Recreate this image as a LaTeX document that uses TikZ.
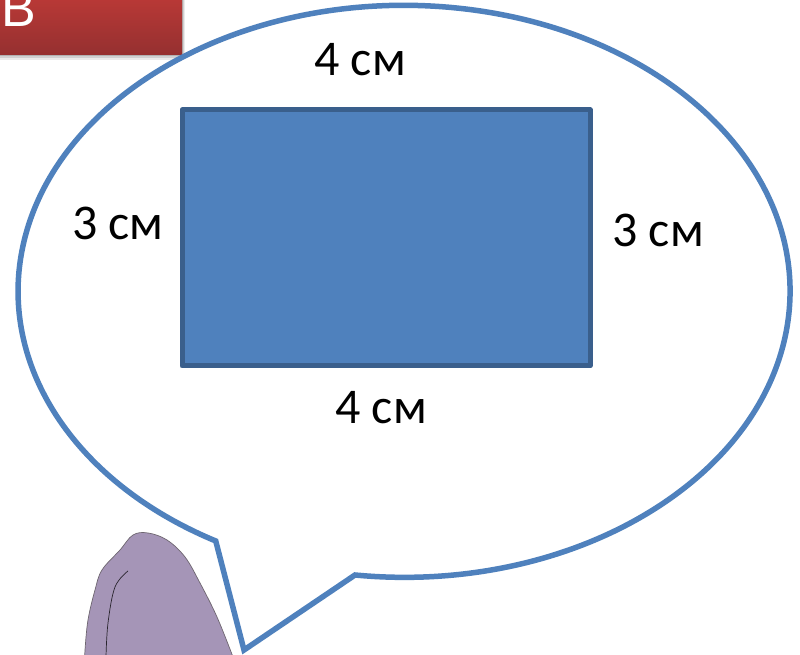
\documentclass[tikz,border=0pt]{standalone}
\usepackage{fontspec}
\setmainfont{Carlito}
\newfontfamily\arialfont{Liberation Sans}
\usetikzlibrary{shadows.blur}
\definecolor{bubbleblue}{HTML}{4F81BD}
\definecolor{rectedge}{HTML}{3A5F8C}
\definecolor{redtop}{HTML}{BE3A37}
\definecolor{redbot}{HTML}{953030}
\definecolor{robe}{HTML}{A595B7}
\definecolor{robeedge}{HTML}{6E6670}
\tikzset{
  x=1pt,y=1pt,
  measure/.style={font=\fontsize{50}{50}\selectfont,text=black,inner sep=0pt,anchor=center},
  bubble/.style={draw=bubbleblue,line width=5.5pt,fill=white,line join=miter},
  blockrect/.style={draw=rectedge,fill=bubbleblue,line width=5pt,line join=round,outer sep=0pt}
}
\begin{document}
\begin{tikzpicture}
\useasboundingbox (0,0) rectangle (800,655);
\clip (0,0) rectangle (800,655);
\fill[white] (0,0) rectangle (800,655);
% red tab shadow and tab
\fill[black!8] (0,595) rectangle (185,655);
\fill[black!18] (0,597) rectangle (184,655);
\fill[black!30] (0,599) rectangle (183,655);
\node[inner sep=0pt,outer sep=0pt,minimum width=182pt,minimum height=65pt,anchor=south west,
  top color=redtop,bottom color=redbot] (tab) at (0,600) {};
\node[font=\arialfont\fontsize{52}{52}\selectfont,text=white,inner sep=0pt,anchor=base west] (letter) at (1,628) {В};
% speech bubble
\draw[bubble] (244,5) -- (355,80)
  arc[start angle=262.7,end angle=600.8,x radius=386,y radius=286] -- cycle;
% rectangle
\node[blockrect,minimum width=408pt,minimum height=256pt,inner sep=0pt,anchor=south west] (block) at (182,289) {};
% labels
\node[measure] (top) at (360,595) {4 см};
\node[measure] (left) at (118,432) {3 см};
\node[measure] (right) at (658,425) {3 см};
\node[measure] (bottom) at (381,247) {4 см};
% figure
\draw[fill=robe,draw=robeedge,line width=.7pt]
  plot[smooth,tension=.6] coordinates {(85,-2) (85,5) (88,35) (95,65) (102,85) (120,105) (133,120) (148,122) (167,115) (185,98) (200,72) (217,38) (233,-2)} -- cycle;
\draw[draw=black!75!robe,line width=.7pt]
  plot[smooth,tension=.6] coordinates {(106,-2) (108,32) (115,68) (128,84)};
\end{tikzpicture}
\end{document}
